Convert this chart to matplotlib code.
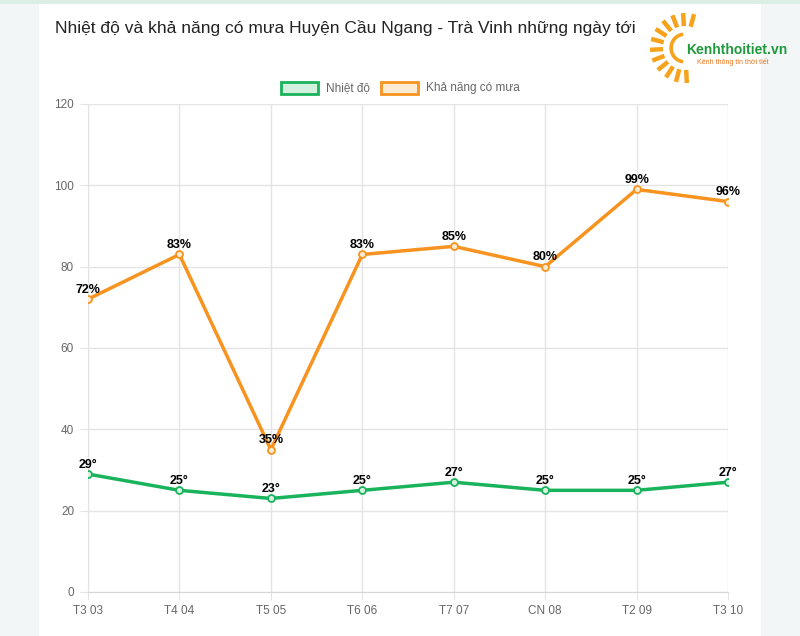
import matplotlib.pyplot as plt
from matplotlib.patches import Rectangle, Wedge
import numpy as np

plt.rcParams['font.family'] = ['Liberation Sans', 'DejaVu Sans']

days = ['T3 03', 'T4 04', 'T5 05', 'T6 06', 'T7 07', 'CN 08', 'T2 09', 'T3 10']
temp = [29, 25, 23, 25, 27, 25, 25, 27]
rain = [72, 83, 35, 83, 85, 80, 99, 96]

green = '#19b35c'
orange = '#f7931e'

fig = plt.figure(figsize=(8, 6.36), dpi=100)
fig.patch.set_facecolor('#f2f6f7')

# white card + top strip
fig.add_artist(Rectangle((39 / 800, 0), 722 / 800, 1 - 4 / 636, transform=fig.transFigure,
                         facecolor='white', edgecolor='none', zorder=0))
fig.add_artist(Rectangle((0, 1 - 4 / 636), 1, 4 / 636, transform=fig.transFigure,
                         facecolor='#dcefe6', edgecolor='none', zorder=0))

ax = fig.add_axes([88 / 800, 1 - 592 / 636, 640 / 800, 488 / 636])
ax.set_facecolor('none')
x = np.arange(len(days))

ax.plot(x, temp, color=green, lw=2.5, marker='o', ms=5, mfc='#d9f3e3', mec=green, mew=1.3, zorder=3)
ax.plot(x, rain, color=orange, lw=2.5, marker='o', ms=5, mfc='#fdebd3', mec=orange, mew=1.3, zorder=3)

for i in x:
    ax.annotate(f'{temp[i]}°', (i, temp[i]), xytext=(0, 2.5), textcoords='offset points',
                ha='center', va='bottom', fontsize=9, fontweight='bold', color='black', zorder=4)
    ax.annotate(f'{rain[i]}%', (i, rain[i]), xytext=(0, 2.5), textcoords='offset points',
                ha='center', va='bottom', fontsize=9, fontweight='bold', color='black', zorder=4)

ax.set_xlim(0, len(days) - 1)
ax.set_ylim(0, 120)
ax.set_yticks(range(0, 121, 20))
ax.set_xticks(x)
ax.set_xticklabels(days)
ax.grid(True, color='#e4e4e4', lw=1)
ax.set_axisbelow(True)
for s in ax.spines.values():
    s.set_visible(False)
ax.spines['left'].set_visible(True)
ax.spines['left'].set_color('#e4e4e4')
ax.spines['bottom'].set_visible(True)
ax.spines['bottom'].set_color('#d6d6d6')
ax.tick_params(axis='both', colors='#e4e4e4', labelcolor='#666666', labelsize=8.5, length=6)
ax.tick_params(axis='y', pad=4)
ax.tick_params(axis='x', pad=3)

# title
fig.text(55 / 800, 1 - 28 / 636, 'Nhiệt độ và khả năng có mưa Huyện Cầu Ngang - Trà Vinh những ngày tới',
         fontsize=12.5, color='#222222', va='center', ha='left')

# legend
for bx, fc, ec, label in [(281, '#d4f0de', green, 'Nhiệt độ'), (381, '#fdebd3', orange, 'Khả năng có mưa')]:
    fig.add_artist(Rectangle((bx / 800, 1 - 94 / 636), 37 / 800, 12 / 636, transform=fig.transFigure,
                             facecolor=fc, edgecolor=ec, lw=2))
    fig.text((bx + 45) / 800, 1 - 88 / 636, label, fontsize=8.5, color='#666666', va='center', ha='left')

# logo (pixel coords)
lax = fig.add_axes([640 / 800, 1 - 100 / 636, 90 / 800, 95 / 636])
lax.set_xlim(640, 730)
lax.set_ylim(100, 5)
lax.axis('off')
cx, cy = 685, 48
sun = '#f7a21b'
lax.add_patch(Wedge((cx, cy), 15, 100, 260, width=2.2, color=sun))
for ang in np.arange(75, 290, 18):
    a = np.deg2rad(ang)
    lax.plot([cx + 22 * np.cos(a), cx + 35 * np.cos(a)],
             [cy - 22 * np.sin(a), cy - 35 * np.sin(a)], color=sun, lw=3.2, solid_capstyle='butt')
fig.text(686 / 800, 1 - 50 / 636, 'Kenhthoitiet.vn', fontsize=10, fontweight='bold', color='#1f9a3c',
         va='center', ha='left')
fig.text(697 / 800, 1 - 62 / 636, 'Kênh thông tin thời tiết', fontsize=5, color='#e8731a',
         va='center', ha='left')

fig.savefig('out.png', dpi=100, facecolor=fig.get_facecolor())
